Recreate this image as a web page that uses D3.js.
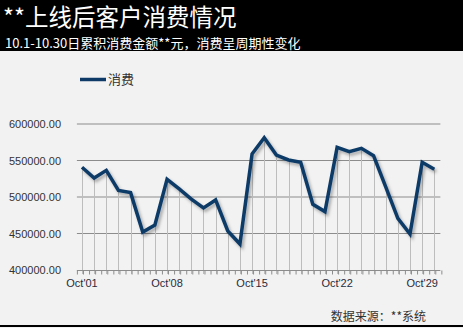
<!DOCTYPE html>
<html>
<head>
<meta charset="utf-8">
<script src="https://cdn.jsdelivr.net/npm/d3@7/dist/d3.min.js"></script>
<style>
  body { margin: 0; background: #f2f2f2; }
  svg { display: block; }
  text { font-family: "Liberation Sans", Arial, sans-serif; }
  .cjk { font-family: "Noto Sans CJK SC", sans-serif; }
</style>
</head>
<body>
<svg width="463" height="328"></svg>
<script>
// chart data
var days = d3.range(1, 31);
var spend = [540700, 526000, 536500, 509000, 506000, 452000, 461600, 524200, 511000, 497000,
             485000, 496000, 453500, 435600, 559000, 581300, 557500, 550700, 547500, 490000,
             480000, 568000, 562000, 566700, 556600, 514000, 470800, 449300, 547500, 538000];
var yTicks = [400000, 450000, 500000, 550000, 600000];
var xTickDays = [1, 8, 15, 22, 29];
var titleText = "**上线后客户消费情况";
var subText = "10.1-10.30日累积消费金额**元，消费呈周期性变化";
var legendText = "消费";
var sourceText = "数据来源：**系统";

var svg = d3.select("svg");
var lineColor = "#0e3a68";

// background + header
svg.append("rect").attr("width", 463).attr("height", 328).attr("fill", "#f2f2f2");
svg.append("rect").attr("width", 463).attr("height", 51).attr("fill", "#000");
svg.append("rect").attr("y", 325).attr("width", 463).attr("height", 2).attr("fill", "#000");

svg.append("text").attr("class", "cjk").attr("x", 3).attr("y", 25.5)
    .attr("fill", "#fff").style("font-size", "23.5px").text(titleText);
svg.append("text").attr("class", "cjk").attr("x", 5).attr("y", 47.5)
    .attr("fill", "#fff").style("font-size", "13px").text(subText);

// shadow under the line
var defs = svg.append("defs");
var f = defs.append("filter").attr("id", "shadow")
    .attr("x", "-5%").attr("y", "-10%").attr("width", "115%").attr("height", "130%");
f.append("feDropShadow").attr("dx", 2).attr("dy", 2.5).attr("stdDeviation", 1.5)
    .attr("flood-color", "#000").attr("flood-opacity", 0.3);

// scales
var x = d3.scaleLinear().domain([1, 30]).range([82, 434.3]);
var y = d3.scaleLinear().domain([400000, 600000]).range([270, 124]);

// horizontal grid
svg.append("g").selectAll("line").data(yTicks.slice(1)).join("line")
    .attr("x1", x(0.58)).attr("x2", x(30.5))
    .attr("y1", d => y(d)).attr("y2", d => y(d))
    .attr("stroke", "#8c8c8c").attr("stroke-width", 1);

// drop lines from each point
svg.append("g").selectAll("line").data(days).join("line")
    .attr("x1", d => Math.round(x(d)) + 0.5).attr("x2", d => Math.round(x(d)) + 0.5)
    .attr("y1", (d, i) => y(spend[i])).attr("y2", y(400000) + 4)
    .attr("stroke", "#bdbdbd").attr("stroke-width", 1);

// x axis line + small ticks
var xAxis = d3.axisBottom(x)
    .tickValues(d3.range(0.58, 30.6, 0.5))
    .tickSize(4).tickFormat("");
var gx = svg.append("g").attr("transform", "translate(0," + (y(400000) + 0.5) + ")").call(xAxis);
gx.select(".domain").attr("stroke", "#8c8c8c").attr("d", "M" + x(0.58) + ",0H" + x(30.5));
gx.selectAll(".tick line").attr("stroke", "#8c8c8c");

svg.append("g").selectAll("text").data(xTickDays).join("text")
    .attr("x", d => x(d)).attr("y", 287)
    .attr("text-anchor", "middle").attr("fill", "#2b2b3b")
    .style("font-size", "11px")
    .text(d => "Oct'" + (d < 10 ? "0" + d : d));

// y labels
var yAxis = d3.axisLeft(y).tickValues(yTicks).tickSize(0).tickFormat(d => d3.format(".2f")(d));
var gy = svg.append("g").attr("transform", "translate(66,0)").call(yAxis);
gy.select(".domain").remove();
gy.selectAll("text").attr("fill", "#333").style("font-size", "11px")
    .style("font-family", "'Liberation Sans', Arial, sans-serif").attr("dx", -2);

// main line
var line = d3.line().x((d, i) => x(days[i])).y(d => y(d));
svg.append("path").datum(spend)
    .attr("d", line)
    .attr("fill", "none").attr("stroke", lineColor)
    .attr("stroke-width", 3.5).attr("stroke-linejoin", "miter")
    .attr("filter", "url(#shadow)");

// legend
svg.append("line").attr("x1", 80).attr("x2", 106).attr("y1", 79.5).attr("y2", 79.5)
    .attr("stroke", lineColor).attr("stroke-width", 3.5);
svg.append("text").attr("class", "cjk").attr("x", 108).attr("y", 84)
    .attr("fill", "#333").style("font-size", "13px").text(legendText);

// source
svg.append("text").attr("class", "cjk").attr("x", 426).attr("y", 320.5)
    .attr("text-anchor", "end").attr("fill", "#333")
    .style("font-size", "12px").text(sourceText);
</script>
</body>
</html>
